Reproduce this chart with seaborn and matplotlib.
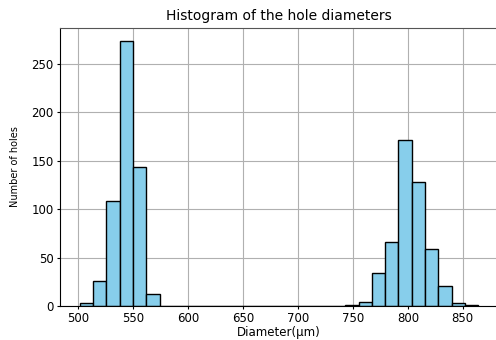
import numpy as np
import pandas as pd
import matplotlib
matplotlib.use("Agg")
import matplotlib.pyplot as plt
import seaborn as sns

# === Data ===
diameter_min = 501.8
diameter_max = 863.9
hole_counts = [3, 26, 108, 273, 143, 12,
               0, 0, 0, 0, 0, 0, 0, 0, 0, 0, 0, 0, 0, 0,
               1, 4, 34, 66, 171, 128, 59, 21, 3, 1]

bin_edges = np.linspace(diameter_min, diameter_max, len(hole_counts) + 1)
df = pd.DataFrame({
    "diameter": (bin_edges[:-1] + bin_edges[1:]) / 2,
    "count": hole_counts,
})

# === Plot ===
fig = plt.figure(figsize=(4.96, 3.4), dpi=100)
ax = fig.add_axes([60 / 496, 0.1, 438 / 496, 0.8176])

sns.histplot(data=df, x="diameter", weights="count", bins=list(bin_edges), ax=ax,
             color="skyblue", edgecolor="black", linewidth=1, alpha=1)

ax.set_axisbelow(True)
ax.grid(True, color="#b0b0b0", linewidth=0.8)
ax.set_xlim(483.7, 882.0)
ax.set_ylim(0, 286.7)
ax.set_xticks([500, 550, 600, 650, 700, 750, 800, 850])
ax.tick_params(labelsize=8.5, length=2.5, pad=2)
ax.spines["top"].set_color("#555555")

ax.set_title("Histogram of the hole diameters", fontsize=10)
ax.set_xlabel("Diameter(µm)", fontsize=8.5, labelpad=0.5)
ax.set_ylabel("Number of holes", fontsize=7, labelpad=8)

fig.savefig("out.png", dpi=100)
plt.close(fig)
